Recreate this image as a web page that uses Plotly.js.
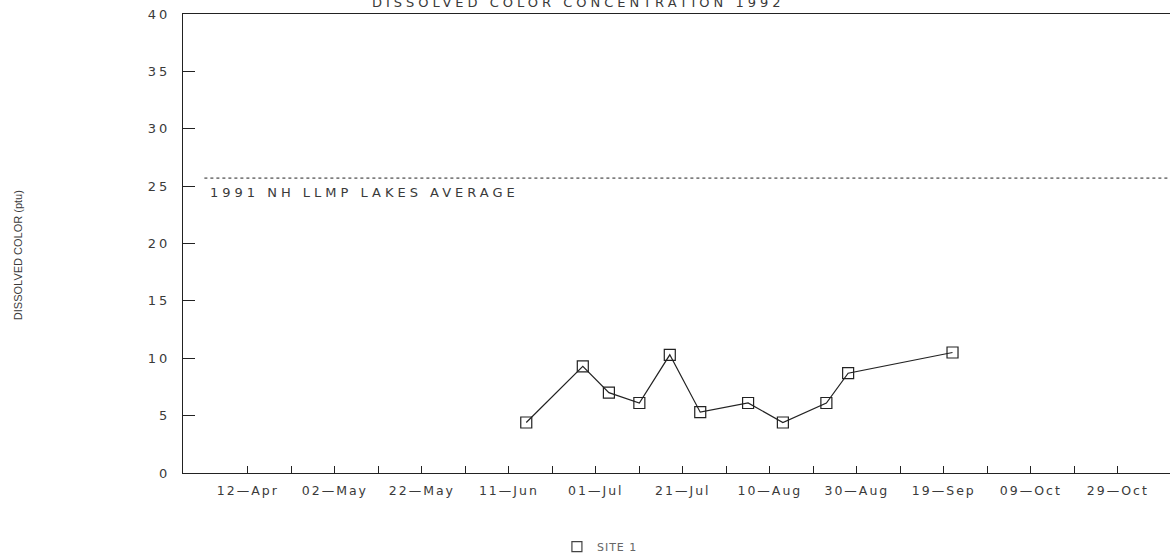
<!DOCTYPE html>
<html>
<head>
<meta charset="utf-8">
<script src="https://cdn.plot.ly/plotly-3.0.1.min.js"></script>
<style>
html,body{margin:0;padding:0;background:#fff;}
#chart{width:1170px;height:556px;}
.xtick text{letter-spacing:2px;}
.ytick text{letter-spacing:3px;}
.annotation-text{letter-spacing:4px;}
.annotation[data-index="2"] .annotation-text{letter-spacing:0px;}
.legendtext{letter-spacing:1px;}
</style>
</head>
<body>
<div id="chart"></div>
<script>
// ---- data ----
const sampleDates = ["1991-06-15","1991-06-28","1991-07-04","1991-07-11","1991-07-18","1991-07-25","1991-08-05","1991-08-13","1991-08-23","1991-08-28","1991-09-21"];
const colorValues = [4.4, 9.3, 7.0, 6.1, 10.3, 5.3, 6.1, 4.4, 6.1, 8.7, 10.5];
const seriesName = "SITE 1";
const lakesAverage = 25.7;
const lakesAverageDates = ["1991-04-02","1991-11-12"];
const lakesAverageLabel = "1991 NH LLMP LAKES AVERAGE";
const tickDates = ["1991-04-12","1991-04-22","1991-05-02","1991-05-12","1991-05-22","1991-06-01","1991-06-11","1991-06-21","1991-07-01","1991-07-11","1991-07-21","1991-07-31","1991-08-10","1991-08-20","1991-08-30","1991-09-09","1991-09-19","1991-09-29","1991-10-09","1991-10-19","1991-10-29"];
const tickLabels = ["12\u2014Apr","","02\u2014May","","22\u2014May","","11\u2014Jun","","01\u2014Jul","","21\u2014Jul","","10\u2014Aug","","30\u2014Aug","","19\u2014Sep","","09\u2014Oct","","29\u2014Oct"];
const yTicks = [0,5,10,15,20,25,30,35,40];
const chartTitle = "DISSOLVED COLOR CONCENTRATION 1992";
const yTitle = "DISSOLVED COLOR (ptu)";

const ink = "#222";
const txt = "#3a3a3a";
const fontFam = "DejaVu Sans, Verdana, sans-serif";

const traces = [
  {
    x: lakesAverageDates,
    y: lakesAverageDates.map(() => lakesAverage),
    mode: "lines",
    line: {color: ink, width: 1, dash: "dot"},
    showlegend: false,
    hoverinfo: "skip"
  },
  {
    x: sampleDates,
    y: colorValues,
    name: seriesName,
    mode: "lines+markers",
    line: {color: ink, width: 1.2},
    marker: {symbol: "square-open", size: 11, color: ink, line: {width: 1.2, color: ink}},
    showlegend: false
  },
  {
    x: [null],
    y: [null],
    name: seriesName,
    mode: "markers",
    marker: {symbol: "square-open", size: 10, color: "#444", line: {width: 1.2, color: "#444"}},
    showlegend: true
  }
];

const layout = {
  width: 1170,
  height: 556,
  margin: {l: 183, r: 0, t: 14, b: 83},
  paper_bgcolor: "#fff",
  plot_bgcolor: "#fff",
  font: {family: fontFam, color: txt, size: 12},
  showlegend: true,
  legend: {
    orientation: "h",
    xref: "container", yref: "container",
    x: 0.476, y: 0.017, xanchor: "left", yanchor: "middle",
    font: {family: fontFam, size: 11, color: "#666"},
    itemwidth: 30
  },
  xaxis: {
    type: "date",
    range: ["1991-03-28 02:00", "1991-11-10"],
    tickmode: "array",
    tickvals: tickDates,
    ticktext: tickLabels,
    ticks: "inside",
    ticklen: 7,
    tickcolor: ink,
    tickwidth: 1,
    showline: true,
    linecolor: ink,
    linewidth: 1,
    mirror: true,
    showgrid: false,
    zeroline: false,
    tickfont: {family: fontFam, size: 12.5, color: txt},
    ticklabelstandoff: 6
  },
  yaxis: {
    range: [0, 40],
    tickmode: "array",
    tickvals: yTicks,
    ticktext: yTicks.map(String),
    ticks: "inside",
    ticklen: 12,
    tickcolor: ink,
    tickwidth: 1,
    showline: true,
    linecolor: ink,
    linewidth: 1,
    mirror: false,
    showgrid: false,
    zeroline: false,
    tickfont: {family: fontFam, size: 13, color: txt},
    ticklabelstandoff: 9
  },
  annotations: [
    {
      text: lakesAverageLabel,
      xref: "x", yref: "y",
      x: lakesAverageDates[0], y: lakesAverage,
      xanchor: "left", yanchor: "top",
      xshift: 4, yshift: -5,
      showarrow: false,
      font: {family: fontFam, size: 13, color: txt}
    },
    {
      text: chartTitle,
      xref: "paper", yref: "paper",
      x: 0.4, y: 1,
      xanchor: "center", yanchor: "middle",
      yshift: 12,
      showarrow: false,
      font: {family: fontFam, size: 13, color: txt}
    },
    {
      text: yTitle,
      xref: "paper", yref: "paper",
      x: -0.167, y: 0.475,
      xanchor: "center", yanchor: "middle",
      textangle: -90,
      showarrow: false,
      font: {family: "Liberation Sans Narrow, Arial Narrow, Liberation Sans, sans-serif", size: 11, color: txt}
    }
  ]
};

Plotly.newPlot("chart", traces, layout, {displayModeBar: false, staticPlot: true});
</script>
</body>
</html>
